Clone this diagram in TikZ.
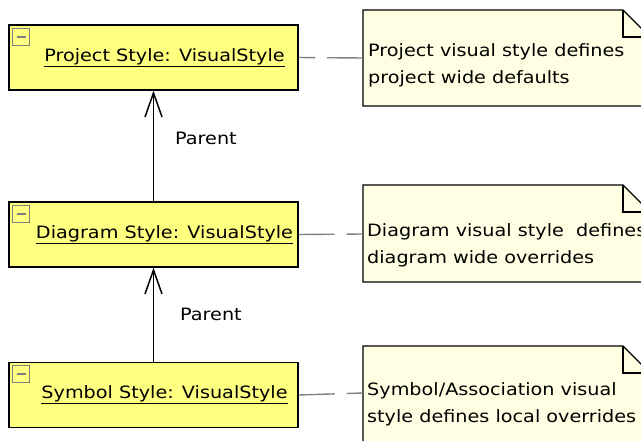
\documentclass[tikz,border=0pt]{standalone}
\usepackage{fontspec}
\setmainfont{DejaVu Sans}[FakeStretch=1.13]
\usetikzlibrary{arrows.meta, positioning, calc}
\definecolor{stylefill}{RGB}{255,255,128}
\definecolor{notefill}{RGB}{255,255,228}
\definecolor{linkgray}{RGB}{128,128,128}

\begin{document}
\begin{tikzpicture}[x=1pt, y=-1pt,
    stylebox/.style={draw=black, line width=1.4pt, fill=stylefill,
      minimum width=289pt, minimum height=65pt, inner sep=0pt},
    stylename/.style={font=\fontsize{17}{20}\selectfont, inner sep=0pt},
    minusbox/.style={draw=gray, line width=1pt, minimum size=17pt, inner sep=0pt,
      path picture={\draw[line width=2pt]
        ($(path picture bounding box.center)+(-4.5,0)$) -- ++(9,0);}},
    notebox/.style={draw=black, line width=1.4pt, fill=notefill},
    notetext/.style={font=\fontsize{17}{27}\selectfont, align=left, inner sep=0pt, anchor=west},
    parentlink/.style={line width=1.5pt, -{Straight Barb[length=24pt, width=17pt]}},
    notelink/.style={draw=linkgray, line width=1.4pt, dash pattern=on 36pt off 12pt},
    parentlabel/.style={font=\fontsize{17}{20}\selectfont, inner sep=0pt, anchor=west}]
    \useasboundingbox (0,0) rectangle (641,441);
    \clip (0,0) rectangle (641,441);

    % notes
    \foreach \top/\bot in {10/106, 185/282, 346/470} {
        \filldraw[notebox] (363,\top) -- (623,\top) -- (650,\top+27)
          -- (650,\bot) -- (363,\bot) -- cycle;
        \draw[line width=1.4pt] (623,\top) |- (650,\top+27);
      }
    \node[notetext] (projnote) at (368,65) {Project visual style defines\\project wide defaults};
    \node[notetext] (diagnote) at (367,245) {Diagram visual style\ \ defines\\diagram wide overrides};
    \node[notetext] (symbnote) at (367,404) {Symbol/Association visual\\style defines local overrides};
    \coordinate (projpin) at (363,58);
    \coordinate (diagpin) at (363,234);
    \coordinate (symbpin) at (363,393);

    % styles
    \node[stylebox] (proj) at (153.5,57.5) {};
    \node[stylebox] (diag) at (153.5,234.5) {};
    \node[stylebox] (symb) at (153.5,395) {};
    \node[stylename] (projname) at ($(proj.center)+(11,0)$) {\underline{Project Style: VisualStyle}};
    \node[stylename] (diagname) at ($(diag.center)+(11,0)$) {\underline{Diagram Style: VisualStyle}};
    \node[stylename] (symbname) at ($(symb.center)+(11,0)$) {\underline{Symbol Style: VisualStyle}};
    \node[minusbox] (projmin) at ($(proj.north west)+(13,12.5)$) {};
    \node[minusbox] (diagmin) at ($(diag.north west)+(13,12.5)$) {};
    \node[minusbox] (symbmin) at ($(symb.north west)+(13,12.5)$) {};

    % parent links
    \draw[parentlink] (diag.north) -- (proj.south);
    \draw[parentlink] (symb.north) -- (diag.south);
    \node[parentlabel] (parentup) at (175,138) {Parent};
    \node[parentlabel] (parentdown) at (180,314) {Parent};

    % note links
    \draw[notelink] (projpin) -- (proj.east);
    \draw[notelink] (diag.east) -- (diagpin);
    \draw[notelink] (symb.east) -- (symbpin);
  \end{tikzpicture}
\end{document}
